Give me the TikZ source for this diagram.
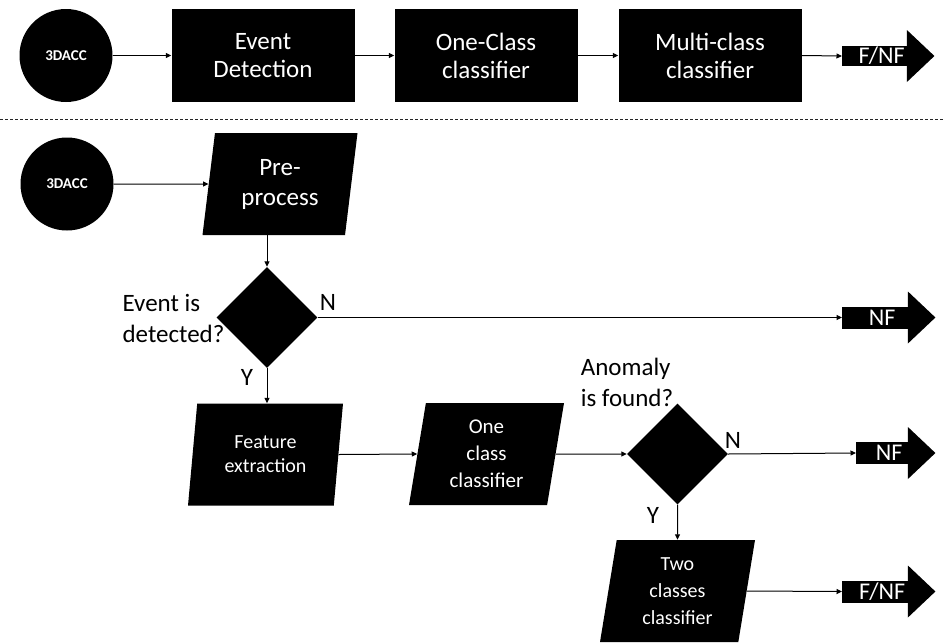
\documentclass[tikz,border=0pt]{standalone}
\usepackage{fontspec}
\setmainfont{Carlito}
\usetikzlibrary{shapes.geometric,arrows.meta}
\newcommand{\rsh}[1]{\hspace*{14pt}#1}
\begin{document}
\begin{tikzpicture}[x=1pt,y=-1pt,
  blk/.style={fill=black,text=white,draw=none},
  circ/.style={blk,circle,minimum size=93pt,inner sep=0pt,font=\bfseries\fontsize{15}{17}\selectfont},
  boxn/.style={blk,rectangle,minimum width=183pt,minimum height=93pt,inner sep=0pt,align=center,font=\fontsize{25}{28}\selectfont},
  para/.style={blk,trapezium,trapezium left angle=76,trapezium right angle=104,trapezium stretches body,minimum width=155pt,minimum height=102pt,inner sep=0pt,align=center},
  dec/.style={blk,diamond,minimum width=101pt,minimum height=101pt,inner sep=0pt},
  outb/.style={blk,rectangle,inner sep=0pt,minimum height=22pt,font=\fontsize{24}{24}\selectfont},
  lbl/.style={font=\fontsize{25}{31}\selectfont,inner sep=0pt},
  conn/.style={line width=1pt,draw=black,-{Triangle[length=5.5pt,width=5pt]}},
  sep/.style={line width=0.9pt,draw=black!85,dash pattern=on 3pt off 2pt},
]
\useasboundingbox (0,0) rectangle (945,643);
\fill[white] (0,0) rectangle (945,643);
% ---------- top row ----------
\node[circ] (c1) at (66,55.5) {3DACC};
\node[boxn] (b1) at (263,55.5) {Event\\Detection};
\node[boxn] (b2) at (486,55.5) {One-Class\\classifier};
\node[boxn] (b3) at (710,55.5) {Multi-class\\classifier};
\node[outb,minimum width=65pt,minimum height=20pt,anchor=west] (o1) at (842,56) {\rsh{F/NF}};
\fill ([xshift=-0.5pt]o1.east) ++(0,-26) -- ++(27.5,26) -- ++(-27.5,26) -- cycle;
\draw[conn] (c1.east) -- (b1.west);
\draw[conn] (b1.east) -- (b2.west);
\draw[conn] (b2.east) -- (b3.west);
\draw[conn] (b3.east) -- (o1.west);
% ---------- separator ----------
\coordinate (dl) at (0,119);
\coordinate (dr) at (945,119);
\draw[sep] (dl) -- (dr);
% ---------- flowchart ----------
\node[circ] (c2) at (67,184) {3DACC};
\node[para,font=\fontsize{25}{30}\selectfont] (pp) at (280,184) {Pre-\\process};
\draw[conn] (c2) -- (pp);
\node[dec] (d1) at (267,317.5) {};
\draw[conn] (d1.north |- pp.south) -- (d1.north);
\node[lbl,align=left] (q1) at (173.5,318) {Event is\\detected?};
\node[lbl] (n1) at (328,302) {N};
\node[lbl] (y1) at (247,377) {Y};
\node[outb,minimum width=66pt,anchor=west] (o2) at (842,317.5) {\rsh{NF}};
\fill ([xshift=-0.5pt]o2.east) ++(0,-26) -- ++(27.5,26) -- ++(-27.5,26) -- cycle;
\draw[conn] (d1.east) -- (o2.west);
\node[para,font=\fontsize{20}{24}\selectfont] (fe) at (265.5,454.5) {Feature\\extraction};
\draw[conn] (d1.south) -- (d1.south |- fe.north);
\node[para,font=\fontsize{21}{27}\selectfont] (oc) at (486.5,454) {One\\class\\classifier};
\draw[conn] (fe.east) -- (oc.west);
\node[dec] (d2) at (677.5,454) {};
\draw[conn] (oc.east) -- (d2.west);
\node[lbl,align=left] (q2) at (627,382) {Anomaly\\is found?};
\node[lbl] (n2) at (733,440) {N};
\node[lbl] (y2) at (653,515) {Y};
\node[outb,minimum width=52pt,anchor=west] (o3) at (856,453) {\rsh{NF}};
\fill ([xshift=-0.5pt]o3.east) ++(0,-26) -- ++(27.5,26) -- ++(-27.5,26) -- cycle;
\draw[conn] (d2.east) -- (o3.west);
\node[para,font=\fontsize{20}{27}\selectfont] (tc) at (677.5,591) {Two\\classes\\classifier};
\draw[conn] (d2.south) -- (tc.north);
\node[outb,minimum width=66pt,anchor=west] (o4) at (842,591.5) {\rsh{F/NF}};
\fill ([xshift=-0.5pt]o4.east) ++(0,-26) -- ++(27.5,26) -- ++(-27.5,26) -- cycle;
\draw[conn] (tc.east) -- (o4.west);
\end{tikzpicture}
\end{document}
